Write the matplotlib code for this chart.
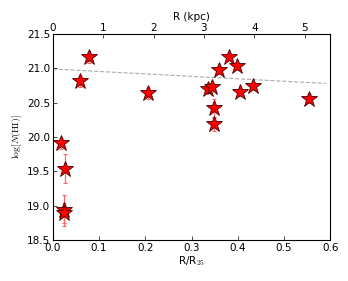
import matplotlib
matplotlib.use("Agg")
import matplotlib.pyplot as plt
import numpy as np

# R/R25, log N(HI), errors
r_r25 = [0.079, 0.059, 0.206, 0.380, 0.399, 0.360, 0.336, 0.344, 0.405, 0.432,
         0.553, 0.349, 0.349, 0.018, 0.026, 0.024, 0.025]
log_nhi = [21.16, 20.81, 20.64, 21.17, 21.03, 20.97, 20.70, 20.73, 20.65, 20.74,
           20.56, 20.42, 20.19, 19.91, 19.54, 18.93, 18.89]
err = [0.08, 0.08, 0.08, 0.05, 0.05, 0.05, 0.05, 0.05, 0.05, 0.05,
       0.06, 0.14, 0.10, 0.08, 0.21, 0.23, 0.15]

# dashed trend line
fit_x = [0.0, 0.59]
fit_y = [20.99, 20.78]

R25_KPC = 9.18  # R (kpc) per unit R/R25

plt.rcParams["mathtext.fontset"] = "cm"
fig = plt.figure(figsize=(3.48, 2.81), dpi=100)
ax = fig.add_axes([0.152, 0.146, 0.797, 0.733])

ax.errorbar(r_r25, log_nhi, yerr=err, fmt="none", ecolor="#ff6666",
            elinewidth=0.9, capsize=1.5, capthick=0.8, zorder=2)
ax.plot(r_r25, log_nhi, ls="none", marker="*", ms=12, mfc="red",
        mec="#440000", mew=0.6, zorder=3)
ax.plot(fit_x, fit_y, ls="--", color="#aaaaaa", lw=0.8, zorder=1)

ax.set_xlim(0, 0.6)
ax.set_ylim(18.5, 21.5)
ax.set_xticks(np.arange(0, 0.61, 0.1))
ax.set_yticks(np.arange(18.5, 21.51, 0.5))
ax.tick_params(labelsize=7.5, direction="in", length=3, width=0.5, pad=2)
ax.set_xlabel(r"R/R$_{25}$", fontsize=7.5, labelpad=1)
ax.set_ylabel(r"$\log[N(\mathrm{HI})]$", fontsize=7, labelpad=2)
for s in ax.spines.values():
    s.set_linewidth(0.6)

top = ax.twiny()
top.set_xlim(0, 0.6 * R25_KPC)
top.set_xticks([0, 1, 2, 3, 4, 5])
top.tick_params(labelsize=7.5, direction="in", length=3, width=0.5, pad=1)
top.set_xlabel("R (kpc)", fontsize=7.5, labelpad=2)

fig.savefig("out.png", dpi=100)
